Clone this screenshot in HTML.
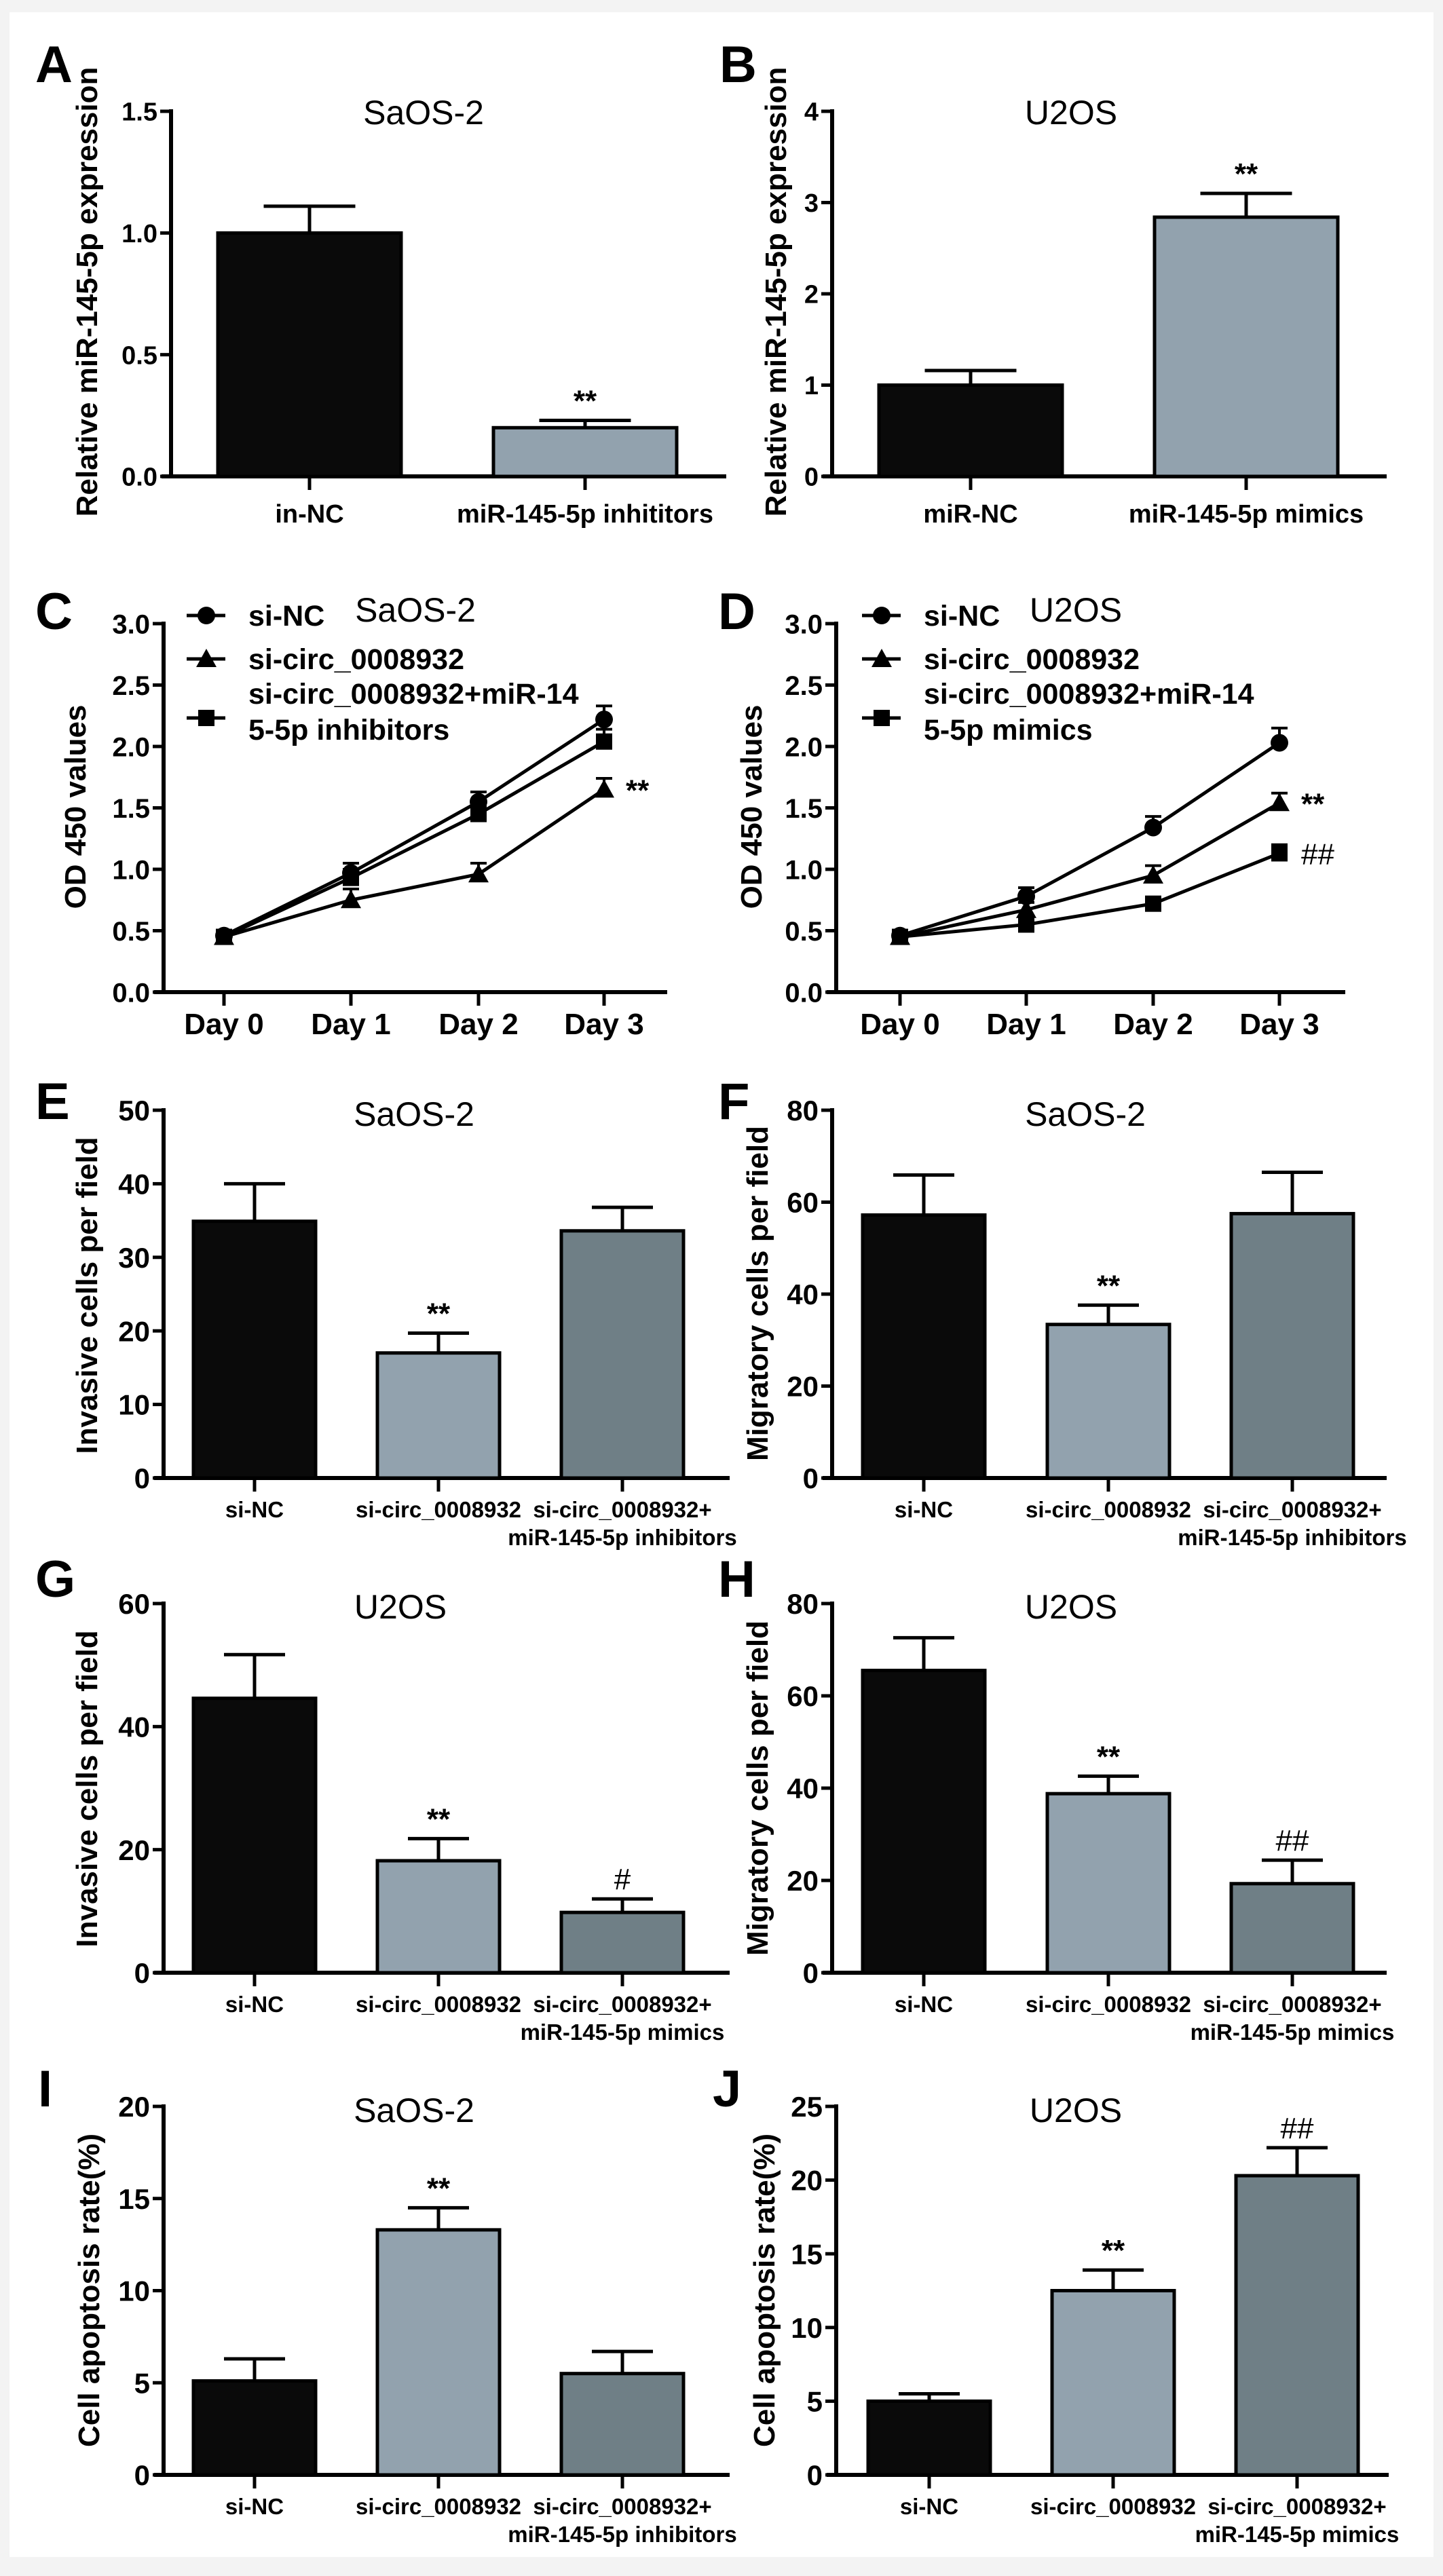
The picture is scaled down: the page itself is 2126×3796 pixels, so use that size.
<!DOCTYPE html>
<html><head><meta charset="utf-8">
<style>
html,body{margin:0;padding:0;background:#fff;}
svg{display:block;font-family:"Liberation Sans",Arial,sans-serif;}
</style></head>
<body>
<svg id="fig" width="2126" height="3796" viewBox="0 0 2126 3796" xmlns="http://www.w3.org/2000/svg">
<rect x="0" y="0" width="2126" height="3796" fill="#f3f3f3"/>
<rect x="14" y="18" width="2098" height="3750" fill="#ffffff"/>
</svg>
<script>
// ---- Data (bar panels) ----
const catsA = ["in-NC","miR-145-5p inhititors"];
const valsA = [1.0, 0.2];
const errA = [0.11, 0.03];
const ticksA = ["0.0","0.5","1.0","1.5"];
const catsB = ["miR-NC","miR-145-5p mimics"];
const valsB = [1.0, 2.84];
const errB = [0.16, 0.26];
const ticksB = ["0","1","2","3","4"];
const catsE = ["si-NC","si-circ_0008932","si-circ_0008932+|miR-145-5p inhibitors"];
const valsE = [34.9, 17.0, 33.6];
const errE = [5.1, 2.7, 3.2];
const ticksE = ["0","10","20","30","40","50"];
const valsF = [57.2, 33.4, 57.5];
const errF = [8.7, 4.2, 9.0];
const ticksF = ["0","20","40","60","80"];
const catsG = ["si-NC","si-circ_0008932","si-circ_0008932+|miR-145-5p mimics"];
const valsG = [44.6, 18.2, 9.8];
const errG = [7.1, 3.6, 2.2];
const ticksG = ["0","20","40","60"];
const valsH = [65.5, 38.8, 19.3];
const errH = [7.1, 3.8, 5.1];
const ticksH = ["0","20","40","60","80"];
const valsI = [5.1, 13.3, 5.5];
const errI = [1.2, 1.2, 1.2];
const ticksI = ["0","5","10","15","20"];
const valsJ = [5.0, 12.5, 20.3];
const errJ = [0.5, 1.4, 1.9];
const ticksJ = ["0","5","10","15","20","25"];
// ---- Data (line panels) ----
const days = ["Day 0","Day 1","Day 2","Day 3"];
const ticksCD = ["0.0","0.5","1.0","1.5","2.0","2.5","3.0"];
const cNC = [0.46, 0.97, 1.55, 2.22];
const cNCerr = [0.02, 0.08, 0.08, 0.11];
const cSi = [0.45, 0.75, 0.96, 1.65];
const cSiErr = [0.02, 0.09, 0.09, 0.09];
const cCombo = [0.45, 0.93, 1.45, 2.04];
const cComboErr = [0.02, 0.07, 0.07, 0.1];
const dNC = [0.46, 0.78, 1.34, 2.03];
const dNCerr = [0.02, 0.07, 0.09, 0.12];
const dSi = [0.45, 0.67, 0.95, 1.54];
const dSiErr = [0.02, 0.06, 0.08, 0.08];
const dCombo = [0.45, 0.55, 0.72, 1.13];
const dComboErr = [0.02, 0.04, 0.04, 0.07];

const NS="http://www.w3.org/2000/svg";
const svg=document.getElementById('fig');
const FILLS=["#0a0a0a","#92a2ae","#6f7f86"];
function el(tag,attrs,parent){const e=document.createElementNS(NS,tag);for(const k in attrs)e.setAttribute(k,attrs[k]);(parent||svg).appendChild(e);return e;}
function txt(s,attrs,parent){const t=el('text',attrs,parent);t.textContent=s;return t;}

function frame(g,o){
  // axes
  const ax=el('line',{x1:o.ax,y1:o.yTop-3,x2:o.ax,y2:o.y0+3,stroke:'#000','stroke-width':6},g);
  
  
  const xx=el('line',{x1:o.ax-14,y1:o.y0,x2:o.xEnd,y2:o.y0,stroke:'#000','stroke-width':6},g);
  
  
  const n=o.ticks.length;
  o.ticks.forEach((t,i)=>{
    const y=o.y0-(o.y0-o.yTop)*i/(n-1);
    const tk=el('line',{x1:o.ax-16,y1:y,x2:o.ax,y2:y,stroke:'#000','stroke-width':5},g);
    
    
    const tl=txt(t,{x:o.ax-20,y:y+o.tickFs*0.36,'text-anchor':'end','font-size':o.tickFs,'font-weight':'bold'},g);
    
    
  });
  const yl=txt(o.ylabel,{x:0,y:0,'text-anchor':'middle','font-size':44,'font-weight':'bold',transform:`translate(${o.ylx},${o.yly}) rotate(-90)`},g);
  
  
  const ti=txt(o.title,{x:o.tx,y:o.ty,'text-anchor':'middle','font-size':50},g);
  
  
  const lt=txt(o.letter,{x:o.lx,y:o.ly,'font-size':76,'font-weight':'bold'},g);
  
  
}

function barPanel(o){
  const g=el('g',{});
  
  
  frame(g,o);
  const max=parseFloat(o.ticks[o.ticks.length-1]);
  const ys=v=>o.y0-(o.y0-o.yTop)*v/max;
  o.vals.forEach((v,i)=>{
    const cx=o.centers[i];
    const b=el('rect',{x:cx-o.bw/2,y:ys(v),width:o.bw,height:o.y0-ys(v),fill:FILLS[i],stroke:'#000','stroke-width':5},g);
    
    
    const top=ys(v+o.errs[i]);
    const e1=el('line',{x1:cx,y1:ys(v),x2:cx,y2:top,stroke:'#000','stroke-width':5},g);
    
    
    const e2=el('line',{x1:cx-o.bw/4,y1:top,x2:cx+o.bw/4,y2:top,stroke:'#000','stroke-width':5},g);
    
    
    if(o.marks&&o.marks[i]){
      const m=txt(o.marks[i],{x:cx,y:top-14,'text-anchor':'middle','font-size':44,'font-weight':o.marks[i][0]==='#'?'normal':'bold'},g);
      
      
    }
    const tk=el('line',{x1:cx,y1:o.y0,x2:cx,y2:o.y0+20,stroke:'#000','stroke-width':5},g);
    
    
    o.cats[i].split('|').forEach((line,j)=>{
      const cl=txt(line,{x:j===0?cx:cx+o.line2dx,y:o.y0+o.lblDy+j*41,'text-anchor':'middle','font-size':o.catFs,'font-weight':'bold'},g);
      
      
    });
  });
}

function linePanel(o){
  const g=el('g',{});
  
  
  frame(g,o);
  const ys=v=>o.y0-(o.y0-o.yTop)*v/3;
  days.forEach((d,i)=>{
    const tk=el('line',{x1:o.xs[i],y1:o.y0,x2:o.xs[i],y2:o.y0+20,stroke:'#000','stroke-width':5},g);
    
    
    const dl=txt(d,{x:o.xs[i],y:o.y0+62,'text-anchor':'middle','font-size':44,'font-weight':'bold'},g);
    
    
  });
  const shapes=['circle','triangle','square'];
  function marker(kind,x,y){
    let m;
    if(kind==='circle') m=el('circle',{cx:x,cy:y,r:13,fill:'#000'},g);
    else if(kind==='triangle') m=el('polygon',{points:`${x},${y-15} ${x-15},${y+12} ${x+15},${y+12}`,fill:'#000'},g);
    else m=el('rect',{x:x-12,y:y-12,width:24,height:24,fill:'#000'},g);
    return m;
  }
  o.series.forEach((s,k)=>{
    const pts=s.v.map((v,i)=>`${o.xs[i]},${ys(v)}`).join(' ');
    const pl=el('polyline',{points:pts,fill:'none',stroke:'#000','stroke-width':5},g);
    
    
    s.v.forEach((v,i)=>{
      const top=ys(v+s.e[i]);
      const e1=el('line',{x1:o.xs[i],y1:ys(v),x2:o.xs[i],y2:top,stroke:'#000','stroke-width':4},g);
      
      
      const e2=el('line',{x1:o.xs[i]-12,y1:top,x2:o.xs[i]+12,y2:top,stroke:'#000','stroke-width':4},g);
      
      
      const m=marker(shapes[k],o.xs[i],ys(v));
      
      
    });
    if(s.mark){
      const mk=txt(s.mark,{x:o.xs[3]+32,y:ys(s.v[3])+16,'font-size':44,'font-weight':s.mark[0]==='#'?'normal':'bold'},g);
      
      
    }
  });
  // legend
  const rows=[o.legY,o.legY+64,o.legY+151];
  const labels=[["si-NC"],["si-circ_0008932"],["si-circ_0008932+miR-14",o.leg3b]];
  rows.forEach((ry,k)=>{
    const ll=el('line',{x1:o.legX,y1:ry,x2:o.legX+57,y2:ry,stroke:'#000','stroke-width':5},g);
    
    
    const m=marker(shapes[k],o.legX+29,ry);
    
    
    labels[k].forEach((s,j)=>{
      const base=k<2?ry+15:ry-21+j*53;
      const lt=txt(s,{x:o.legX+91,y:base,'font-size':43,'font-weight':'bold'},g);
      
      
    });
  });
}

// Row 1
barPanel({letter:'A',lx:52,ly:121,title:'SaOS-2',tx:624,ty:183,ylabel:'Relative miR-145-5p expression',ylx:143,yly:430,
  ax:252,yTop:164,y0:702,xEnd:1070,ticks:ticksA,tickFs:38,cats:catsA,vals:valsA,errs:errA,marks:['','**'],
  centers:[456,862],bw:270,catFs:38,lblDy:68,line2dx:0});
barPanel({letter:'B',lx:1060,ly:121,title:'U2OS',tx:1578,ty:183,ylabel:'Relative miR-145-5p expression',ylx:1158,yly:430,
  ax:1226,yTop:164,y0:702,xEnd:2043,ticks:ticksB,tickFs:38,cats:catsB,vals:valsB,errs:errB,marks:['','**'],
  centers:[1430,1836],bw:270,catFs:38,lblDy:68,line2dx:0});
// Row 2
linePanel({letter:'C',lx:52,ly:927,title:'SaOS-2',tx:612,ty:916,ylabel:'OD 450 values',ylx:126,yly:1189,
  ax:241,yTop:919,y0:1462,xEnd:983,ticks:ticksCD,tickFs:40,xs:[330,517,705,890],
  legX:275,legY:907,leg3b:'5-5p inhibitors',
  series:[{v:cNC,e:cNCerr},{v:cSi,e:cSiErr,mark:'**'},{v:cCombo,e:cComboErr}]});
linePanel({letter:'D',lx:1058,ly:927,title:'U2OS',tx:1585,ty:916,ylabel:'OD 450 values',ylx:1122,yly:1189,
  ax:1232,yTop:919,y0:1462,xEnd:1982,ticks:ticksCD,tickFs:40,xs:[1326,1512,1699,1885],
  legX:1270,legY:907,leg3b:'5-5p mimics',
  series:[{v:dNC,e:dNCerr},{v:dSi,e:dSiErr,mark:'**'},{v:dCombo,e:dComboErr,mark:'##'}]});
// Row 3
barPanel({letter:'E',lx:52,ly:1649,title:'SaOS-2',tx:610,ty:1659,ylabel:'Invasive cells per field',ylx:143,yly:1909,
  ax:241,yTop:1636,y0:2178,xEnd:1075,ticks:ticksE,tickFs:42,cats:catsE,vals:valsE,errs:errE,marks:['','**',''],
  centers:[375,646,917],bw:180,catFs:33,lblDy:58,line2dx:0});
barPanel({letter:'F',lx:1058,ly:1649,title:'SaOS-2',tx:1599,ty:1659,ylabel:'Migratory cells per field',ylx:1131,yly:1906,
  ax:1226,yTop:1636,y0:2178,xEnd:2043,ticks:ticksF,tickFs:42,cats:catsE,vals:valsF,errs:errF,marks:['','**',''],
  centers:[1361,1633,1904],bw:180,catFs:33,lblDy:58,line2dx:0});
// Row 4
barPanel({letter:'G',lx:52,ly:2353,title:'U2OS',tx:590,ty:2385,ylabel:'Invasive cells per field',ylx:143,yly:2636,
  ax:241,yTop:2363,y0:2907,xEnd:1075,ticks:ticksG,tickFs:42,cats:catsG,vals:valsG,errs:errG,marks:['','**','#'],
  centers:[375,646,917],bw:180,catFs:33,lblDy:58,line2dx:0});
barPanel({letter:'H',lx:1058,ly:2353,title:'U2OS',tx:1578,ty:2385,ylabel:'Migratory cells per field',ylx:1131,yly:2635,
  ax:1226,yTop:2363,y0:2907,xEnd:2043,ticks:ticksH,tickFs:42,cats:catsG,vals:valsH,errs:errH,marks:['','**','##'],
  centers:[1361,1633,1904],bw:180,catFs:33,lblDy:58,line2dx:0});
// Row 5
barPanel({letter:'I',lx:56,ly:3104,title:'SaOS-2',tx:610,ty:3127,ylabel:'Cell apoptosis rate(%)',ylx:146,yly:3375,
  ax:241,yTop:3104,y0:3647,xEnd:1075,ticks:ticksI,tickFs:42,cats:catsE,vals:valsI,errs:errI,marks:['','**',''],
  centers:[375,646,917],bw:180,catFs:33,lblDy:58,line2dx:0});
barPanel({letter:'J',lx:1050,ly:3104,title:'U2OS',tx:1585,ty:3127,ylabel:'Cell apoptosis rate(%)',ylx:1141,yly:3375,
  ax:1232,yTop:3104,y0:3647,xEnd:2046,ticks:ticksJ,tickFs:42,cats:catsG,vals:valsJ,errs:errJ,marks:['','**','##'],
  centers:[1369,1640,1911],bw:180,catFs:33,lblDy:58,line2dx:0});
</script>
</body></html>
